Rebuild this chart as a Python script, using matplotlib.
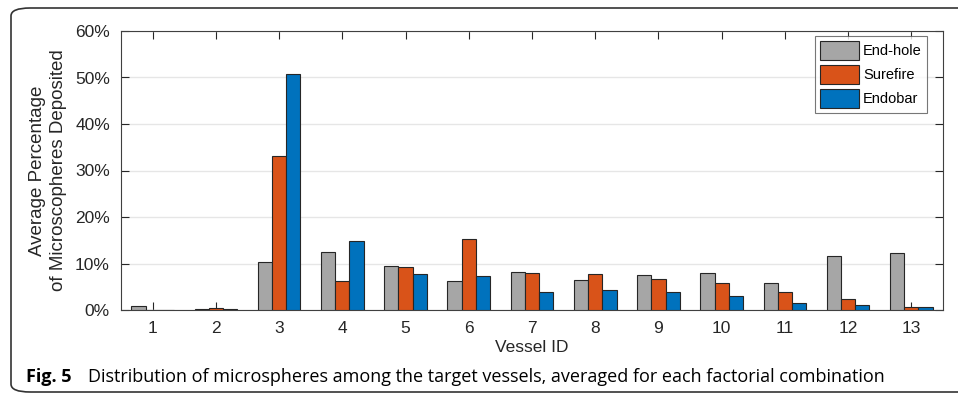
import matplotlib.pyplot as plt
import numpy as np
from matplotlib.patches import FancyBboxPatch

# data (percent)
vessels = ['1', '2', '3', '4', '5', '6', '7', '8', '9', '10', '11', '12', '13']
end_hole = [0.9, 0.3, 10.3, 12.4, 9.5, 6.3, 8.2, 6.5, 7.5, 8.0, 5.7, 11.6, 12.3]
surefire = [0.0, 0.4, 33.2, 6.3, 9.3, 15.3, 8.0, 7.8, 6.6, 5.9, 3.8, 2.3, 0.7]
endobar = [0.1, 0.2, 50.8, 14.9, 7.8, 7.3, 3.8, 4.4, 3.8, 3.1, 1.5, 1.1, 0.6]
series_names = ['End-hole', 'Surefire', 'Endobar']
colors = ['#A6A6A6', '#D95319', '#0072BD']

plt.rcParams['font.family'] = ['Liberation Sans', 'DejaVu Sans']

fig = plt.figure(figsize=(9.58, 3.96), dpi=100)

# rounded frame round the whole figure
frame = FancyBboxPatch((11 / 958, 4 / 396), 1.2, 384 / 396,
                       boxstyle='round,pad=0,rounding_size=0.02',
                       transform=fig.transFigure, facecolor='none',
                       edgecolor='#333333', linewidth=1.2, clip_on=False)
fig.patches.append(frame)

ax = fig.add_axes([121 / 958, 1 - 310 / 396, 822 / 958, 279 / 396])
x = np.arange(1, len(vessels) + 1)
w = 0.225
for i, (vals, name, c) in enumerate(zip([end_hole, surefire, endobar], series_names, colors)):
    ax.bar(x + (i - 1) * w, vals, width=w, color=c, edgecolor='#262626',
           linewidth=0.8, label=name, zorder=3)

ax.set_xlim(0.5, 13.5)
ax.set_ylim(0, 60)
ax.set_xticks(x)
ax.set_xticklabels(vessels)
ax.set_yticks(np.arange(0, 61, 10))
ax.set_yticklabels([f'{v}%' for v in range(0, 61, 10)])
ax.tick_params(direction='in', top=True, right=True, length=6, width=0.8,
               colors='#262626', labelsize=12.5, pad=8)
ax.yaxis.grid(True, color='#E6E6E6', linewidth=1, zorder=0)
ax.set_axisbelow(True)
for s in ax.spines.values():
    s.set_color('#404040')
    s.set_linewidth(0.8)

ax.set_xlabel('Vessel ID', fontsize=12.5, color='#262626', labelpad=3)
ax.set_ylabel('Average Percentage\nof Microscopheres Deposited', fontsize=13.5,
              color='#262626', labelpad=6, linespacing=1.25)

leg = ax.legend(loc='upper right', bbox_to_anchor=(927 / 958, 1 - 36 / 396),
                bbox_transform=fig.transFigure, fontsize=10.5, frameon=True,
                fancybox=False, handlelength=2.7, handleheight=1.6,
                handletextpad=0.25, labelspacing=0.35, borderpad=0.35,
                borderaxespad=0)
leg.get_frame().set_edgecolor('#555555')
leg.get_frame().set_linewidth(0.8)

fig.text(26 / 958, 1 - 377 / 396, 'Fig. 5', fontsize=13, fontweight='bold',
         family='Open Sans', va='center')
fig.text(88 / 958, 1 - 377 / 396,
         'Distribution of microspheres among the target vessels, averaged for each factorial combination',
         fontsize=13, family='Open Sans', va='center')

fig.savefig('out.png', dpi=100)
